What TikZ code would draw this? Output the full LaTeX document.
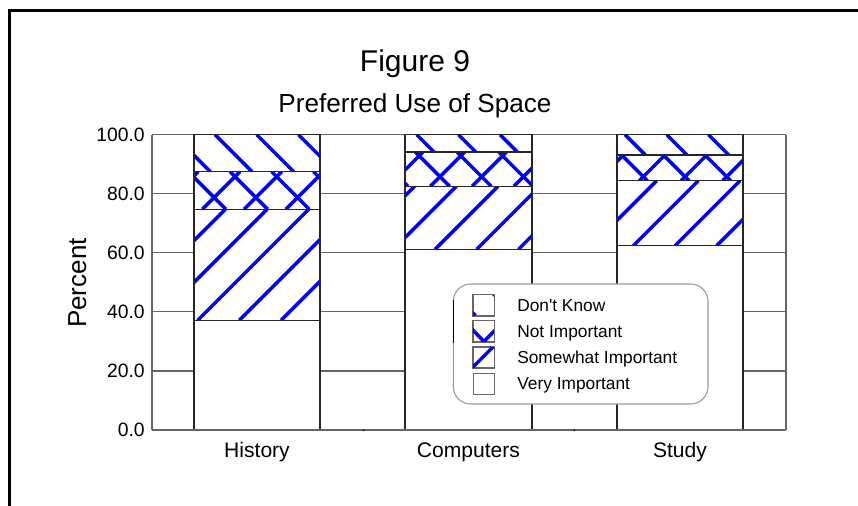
\documentclass[tikz,border=0pt]{standalone}
\usepackage{fontspec}
\setmainfont{Liberation Sans}
\newfontfamily\legfont{Liberation Sans}
\newcommand{\hs}{41.7}
\tikzset{
  hatch/.style={draw=blue, line width=2.6pt},
  segline/.style={draw=black!85, line width=0.8pt},
  gridl/.style={draw=black!60, line width=0.9pt},
  frameline/.style={draw=black, line width=2.25pt},
  ticklabel/.style={anchor=base east, inner sep=0pt, font=\fontsize{14.5}{17}\selectfont},
  catlabel/.style={anchor=base, inner sep=0pt, font=\fontsize{15.8}{19}\selectfont},
  leglabel/.style={anchor=base west, inner sep=0pt, font=\legfont\fontsize{13}{16}\selectfont},
  swatch/.style={draw=black!60, line width=0.8pt, fill=white, minimum width=15.75pt, minimum height=15.75pt, inner sep=0pt}
}
% lines x+y = a + k*s  ("/" in the picture, y grows downward)
\newcommand{\fwdhatch}[5]{%
  \begin{scope}
    \clip (#1,#2) rectangle (#3,#4);
    \foreach \k in {0,...,31} {
      \pgfmathsetmacro{\hc}{#5+\k*\hs}
      \draw[hatch] ({\hc-#4},#4) -- ({\hc-#2},#2);
    }
  \end{scope}}
% lines x-y = b + k*s  ("\" in the picture)
\newcommand{\backhatch}[5]{%
  \begin{scope}
    \clip (#1,#2) rectangle (#3,#4);
    \foreach \k in {-8,...,16} {
      \pgfmathsetmacro{\hc}{#5+\k*\hs}
      \draw[hatch] ({\hc+#2},#2) -- ({\hc+#4},#4);
    }
  \end{scope}}
\begin{document}
\begin{tikzpicture}[x=0.75pt,y=-0.75pt]
\useasboundingbox (0,0) rectangle (858,506);
\fill[white] (0,0) rectangle (858,506);
% outer frame (top and left)
\draw[frameline] (858,10.5) -- (9.5,10.5) -- (9.5,506);

% titles
\node[anchor=base, inner sep=0pt, font=\fontsize{22.5}{27}\selectfont] (t1) at (415,72) {Figure 9};
\node[anchor=base, inner sep=0pt, font=\fontsize{19.6}{23}\selectfont] (t2) at (415,113) {Preferred Use of Space};

% gridlines
\foreach \v/\lab in {0/0.0,1/20.0,2/40.0,3/60.0,4/80.0,5/100.0} {
  \pgfmathsetmacro{\gy}{430-\v*59.06}
  \draw[gridl] (152,\gy) -- (786,\gy);
  \node[ticklabel] (tl\v) at (145,\gy+6.9) {\lab};
}
\draw[gridl] (152,134.7) -- (152,430);
\draw[gridl] (786,134.7) -- (786,430);

% y axis title
\node[rotate=90, anchor=base, inner sep=0pt, font=\fontsize{19.5}{23}\selectfont] (ytitle) at (86,283) {Percent};

% ---- History bar ----
\fill[white] (194,134.7) rectangle (320,430);
\fwdhatch{194}{209.3}{320}{320.3}{17.6}
\fwdhatch{194}{171.7}{320}{209.3}{36.4}
\backhatch{194}{171.7}{320}{209.3}{16.6}
\backhatch{194}{134.7}{320}{171.7}{38.6}
\draw[segline] (194,134.7) rectangle (320,430);
\draw[segline] (194,320.3) -- (320,320.3);
\draw[segline] (194,209.3) -- (320,209.3);
\draw[segline] (194,171.7) -- (320,171.7);

% ---- Computers bar ----
\fill[white] (405,134.7) rectangle (532,430);
\fwdhatch{405}{186.3}{532}{249.3}{17.1}
\fwdhatch{405}{152}{532}{186.3}{32.9}
\backhatch{405}{152}{532}{186.3}{13.1}
\backhatch{405}{134.7}{532}{152}{31.8}
\draw[segline] (405,134.7) rectangle (532,430);
\draw[segline] (405,249.3) -- (532,249.3);
\draw[segline] (405,186.3) -- (532,186.3);
\draw[segline] (405,152) -- (532,152);

% ---- Study bar ----
\fill[white] (617,134.7) rectangle (743,430);
\fwdhatch{617}{180.7}{743}{245.7}{3.3}
\fwdhatch{617}{155}{743}{180.7}{27.7}
\backhatch{617}{155}{743}{180.7}{7.9}
\backhatch{617}{134.7}{743}{155}{31.6}
\draw[segline] (617,134.7) rectangle (743,430);
\draw[segline] (617,245.7) -- (743,245.7);
\draw[segline] (617,180.7) -- (743,180.7);
\draw[segline] (617,155) -- (743,155);

% bottom axis line and small ticks
\draw[gridl] (152,430) -- (786,430);
\fill[black] (363.3,430.4) circle (0.9);
\fill[black] (574.3,430.4) circle (0.9);

% category labels
\node[catlabel] (c1) at (257,457.3) {History};
\node[catlabel] (c2) at (468.5,457.3) {Computers};
\node[catlabel] (c3) at (680,457.3) {Study};

% ---- legend ----
\draw[draw=black!40, line width=0.8pt, fill=white, rounded corners=13] (453.3,284) rectangle (708,404);
\draw[black, line width=1.1pt] (453.3,300) -- (453.3,343);
% swatches
\node[swatch] (s1) at (483.8,305.3) {};
\node[swatch] (s2) at (483.8,331.2) {};
\node[swatch] (s3) at (483.8,357.5) {};
\node[swatch] (s4) at (483.8,383.7) {};
\begin{scope}
  \clip (s1.south west) rectangle (s1.north east);
  \draw[hatch] (493.5,294) -- (503,303.5);
  \draw[hatch] (452,292) -- (475.5,315.5);
\end{scope}
\begin{scope}
  \clip (s2.south west) rectangle (s2.north east);
  \draw[hatch, line join=miter] (466,323) -- (484,341.5) -- (502,323);
\end{scope}
\begin{scope}
  \clip (s3.south west) rectangle (s3.north east);
  \draw[hatch] (470,370) -- (496,344);
\end{scope}
\draw[black!60, line width=0.8pt] (s1.south west) rectangle (s1.north east);
\draw[black!60, line width=0.8pt] (s2.south west) rectangle (s2.north east);
\draw[black!60, line width=0.8pt] (s3.south west) rectangle (s3.north east);
\node[leglabel] (l1) at (517,311.5) {Don't Know};
\node[leglabel] (l2) at (517,337.4) {Not Important};
\node[leglabel] (l3) at (517,363.7) {Somewhat Important};
\node[leglabel] (l4) at (517,389.9) {Very Important};
\end{tikzpicture}
\end{document}
